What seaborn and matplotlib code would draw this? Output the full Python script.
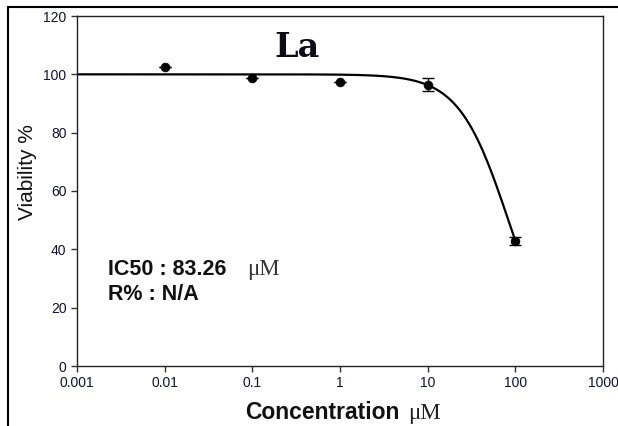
import numpy as np
import pandas as pd
import matplotlib
matplotlib.use("Agg")
import matplotlib.pyplot as plt
from matplotlib.lines import Line2D
import seaborn as sns

# data
conc = [0.01, 0.1, 1, 10, 100]
viability = [102.4, 98.6, 97.4, 96.4, 42.9]
err = [0.0, 0.0, 0.0, 2.2, 1.4]
xticks = [0.001, 0.01, 0.1, 1, 10, 100, 1000]
xtick_labels = ["0.001", "0.01", "0.1", "1", "10", "100", "1000"]
yticks = [0, 20, 40, 60, 80, 100, 120]
# fitted 4PL model parameters
top, bottom, ic50, hill = 100.0, 0.0, 83.26, 1.54

sns.set_style("ticks")
plt.rcParams['font.family'] = ['Liberation Sans', 'DejaVu Sans']

W, H = 618, 426
fig = plt.figure(figsize=(W/100, H/100), dpi=100)
ax = fig.add_axes([77/W, 60/H, (603-77)/W, (366-16)/H])

xs = np.logspace(np.log10(0.001), np.log10(100), 300)
fit = pd.DataFrame({"x": xs, "y": bottom + (top - bottom) / (1 + (xs / ic50) ** hill)})
sns.lineplot(data=fit, x="x", y="y", ax=ax, color="black", lw=1.6)

df = pd.DataFrame({"conc": conc, "viability": viability, "err": err})
ax.errorbar(df["conc"], df["viability"], yerr=df["err"], fmt="none",
            ecolor="black", elinewidth=1, capsize=4, capthick=1)
sns.scatterplot(data=df, x="conc", y="viability", ax=ax, color="black",
                s=40, edgecolor="black", zorder=5)

ax.set_xscale("log")
ax.set_xlim(0.001, 1000)
ax.set_ylim(0, 120)
ax.set_xticks(xticks)
ax.set_xticklabels(xtick_labels)
ax.minorticks_off()
ax.set_yticks(yticks)
ax.tick_params(axis="both", labelsize=10, length=4, width=1, colors="#333333",
               labelcolor="#111133", direction="out")
for sp in ax.spines.values():
    sp.set_visible(True)
    sp.set_color("#222222")
    sp.set_linewidth(1.0)

ax.set_xlabel("")
ax.set_ylabel("Viability %", fontsize=15, color="#111111")
ax.yaxis.set_label_coords(-(77-37)/526, (366-172)/350)

# x label: bold sans + serif mu M
t1 = fig.text(245/W, (H-419)/H, "Concentration", fontsize=16.5, fontweight="bold",
              ha="left", va="baseline", color="#111111")
fig.canvas.draw()
r = fig.canvas.get_renderer()
bb = t1.get_window_extent(r)
fig.text((bb.x1 + 9)/W, (H-419)/H, "\u03bcM", fontsize=16.5, family="Liberation Serif",
         ha="left", va="baseline", color="#222222")

ax.text((297-77)/526, (366-57)/350, "La", transform=ax.transAxes, fontsize=24,
        fontweight="bold", family="DejaVu Serif", ha="center", va="baseline",
        color="#0d0d1a")

ax.text((108-77)/526, (366-275)/350, "IC50 : 83.26", transform=ax.transAxes, fontsize=15.5,
        fontweight="bold", ha="left", va="baseline", color="#111111")
ax.text((247-77)/526, (366-275)/350, "\u03bcM", transform=ax.transAxes, fontsize=16.5,
        family="Liberation Serif", ha="left", va="baseline", color="#333333")
ax.text((108-77)/526, (366-300)/350, "R% : N/A", transform=ax.transAxes, fontsize=15.5,
        fontweight="bold", ha="left", va="baseline", color="#111111")

# outer frame lines (top and left)
fig.add_artist(Line2D([8/W, 1.0], [1 - 7/H, 1 - 7/H], color="black", lw=1.5,
                      transform=fig.transFigure))
fig.add_artist(Line2D([8/W, 8/W], [0.0, 1 - 7/H], color="black", lw=1.5,
                      transform=fig.transFigure))

fig.savefig("out.png", dpi=100)
